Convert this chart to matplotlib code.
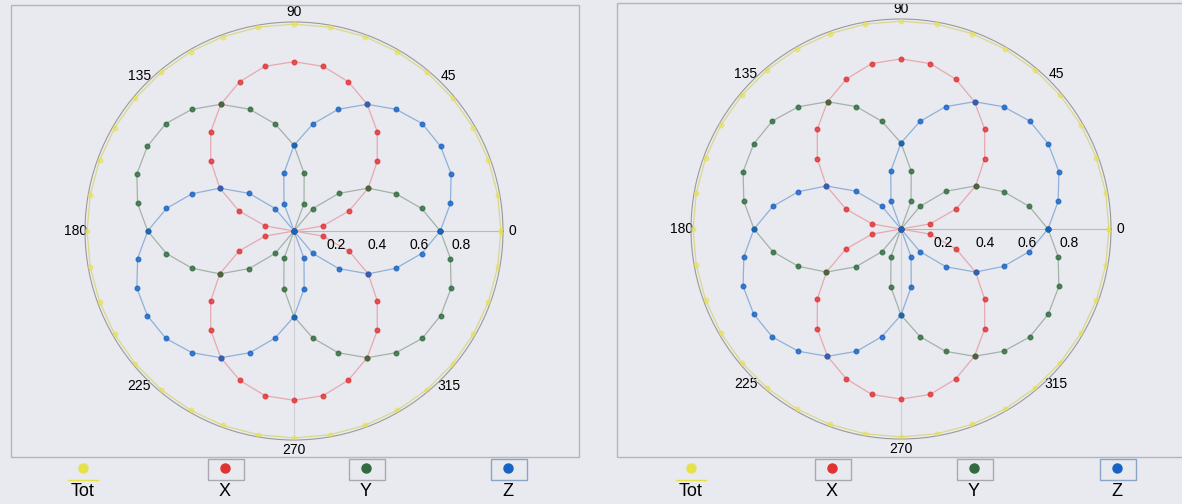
import numpy as np
import matplotlib.pyplot as plt
from matplotlib.patches import Rectangle

# angles in degrees, one marker every 10 degrees
angles = [0, 10, 20, 30, 40, 50, 60, 70, 80, 90, 100, 110, 120, 130, 140, 150, 160, 170, 180,
          190, 200, 210, 220, 230, 240, 250, 260, 270, 280, 290, 300, 310, 320, 330, 340, 350, 360]

tot_vals = [0.99, 0.99, 0.99, 0.99, 0.99, 0.99, 0.99, 0.99, 0.99, 0.99, 0.99, 0.99, 0.99,
            0.99, 0.99, 0.99, 0.99, 0.99, 0.99, 0.99, 0.99, 0.99, 0.99, 0.99, 0.99, 0.99,
            0.99, 0.99, 0.99, 0.99, 0.99, 0.99, 0.99, 0.99, 0.99, 0.99, 0.99]
x_vals = [0.00, 0.14, 0.28, 0.41, 0.52, 0.62, 0.70, 0.76, 0.80, 0.81, 0.80, 0.76, 0.70,
          0.62, 0.52, 0.41, 0.28, 0.14, 0.00, 0.14, 0.28, 0.41, 0.52, 0.62, 0.70, 0.76,
          0.80, 0.81, 0.80, 0.76, 0.70, 0.62, 0.52, 0.41, 0.28, 0.14, 0.00]
y_vals = [0.70, 0.62, 0.52, 0.41, 0.28, 0.14, 0.00, 0.14, 0.28, 0.41, 0.52, 0.62, 0.70,
          0.76, 0.80, 0.81, 0.80, 0.76, 0.70, 0.62, 0.52, 0.41, 0.28, 0.14, 0.00, 0.14,
          0.28, 0.41, 0.52, 0.62, 0.70, 0.76, 0.80, 0.81, 0.80, 0.76, 0.70]
z_vals = [0.70, 0.76, 0.80, 0.81, 0.80, 0.76, 0.70, 0.62, 0.52, 0.41, 0.28, 0.14, 0.00,
          0.14, 0.28, 0.41, 0.52, 0.62, 0.70, 0.76, 0.80, 0.81, 0.80, 0.76, 0.70, 0.62,
          0.52, 0.41, 0.28, 0.14, 0.00, 0.14, 0.28, 0.41, 0.52, 0.62, 0.70]

series = [
    ("Tot", tot_vals, "#e6e04a", "#d9d98a"),
    ("X", x_vals, "#e03232", "#e6a9b0"),
    ("Y", y_vals, "#2f6b3c", "#a3b3a8"),
    ("Z", z_vals, "#1663c4", "#8fb1d8"),
]
theta_labels = ["0", "45", "90", "135", "180", "225", "270", "315"]
r_ticks = [0.2, 0.4, 0.6, 0.8]

bg = "#e9e9f0"
plt.rcParams["font.family"] = ["Liberation Sans", "DejaVu Sans"]

W, H = 1182, 504
fig = plt.figure(figsize=(W / 100, H / 100), dpi=100, facecolor=bg)


def polar_panel(cx, cy, rad):
    ax = fig.add_axes([(cx - rad) / W, (H - cy - rad) / H, 2 * rad / W, 2 * rad / H],
                      projection="polar")
    ax.set_facecolor("none")
    th = np.radians(angles)
    for name, vals, mcol, lcol in series:
        ax.plot(th, vals, color=lcol, lw=0.9, zorder=2)
        ax.plot(th, vals, ls="none", marker="o", ms=3.3, mfc=mcol, mec=mcol,
                alpha=0.8 if name != "Tot" else 0.55, zorder=3)
    ax.set_ylim(0, 1.0)
    ax.grid(False)
    ax.axvline(0, color="#b8b8c0", lw=0.8, zorder=1)
    ax.axvline(np.radians(270), color="#d0d0d8", lw=0.8, zorder=1)
    ax.set_thetagrids(np.arange(0, 360, 45), theta_labels, fontsize=10)
    ax.set_xticks(np.radians(np.arange(0, 360, 10)), minor=True)
    ax.tick_params(axis="x", which="both", length=3, color="#8a8a8a", pad=0, direction="in")
    ax.set_yticks(r_ticks)
    ax.set_yticklabels([])
    for r in r_ticks:
        ax.annotate(f"{r:.1f}", xy=(0, r), xytext=(0, -10), textcoords="offset points",
                    ha="center", va="center", fontsize=10)
    ax.spines["polar"].set_color("#9a9a9a")
    ax.spines["polar"].set_linewidth(0.8)
    return ax


polar_panel(294, 231, 209)
polar_panel(901, 229, 210)

# overlay in pixel coordinates for frames and legends
ov = fig.add_axes([0, 0, 1, 1], facecolor="none")
ov.set_xlim(0, W)
ov.set_ylim(H, 0)
ov.axis("off")
ov.add_patch(Rectangle((11, 5), 568, 452, fill=False, ec="#b4b4bc", lw=1.0))
ov.add_patch(Rectangle((617, 3), 570, 454, fill=False, ec="#b4b4bc", lw=1.0))

legend_x = [[83, 225, 366, 508], [691, 832, 974, 1117]]
for xs in legend_x:
    for (name, vals, mcol, lcol), lx in zip(series, xs):
        if name == "Tot":
            ov.plot([lx - 15, lx + 15], [480, 480], color="#e6e04a", lw=1)
        else:
            ov.add_patch(Rectangle((lx - 17, 459), 36, 21, fill=False,
                                   ec="#a8a8b0" if name != "Z" else "#8aa4c8", lw=1))
        ov.plot([lx], [468], marker="o", ms=6.5, color=mcol, ls="none")
        ov.text(lx, 491, name, ha="center", va="center", fontsize=13)

fig.savefig("out.png", dpi=100, facecolor=bg)
